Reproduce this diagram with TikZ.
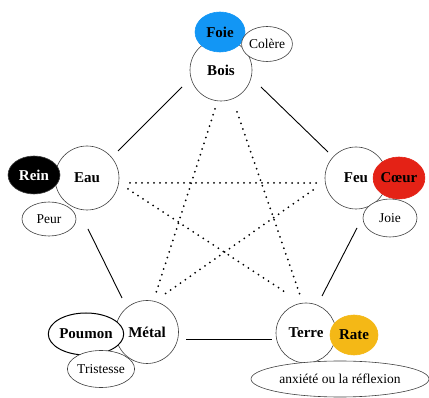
\documentclass[tikz,border=0pt]{standalone}
\usepackage{fontspec}
\setmainfont{Liberation Serif}
\usetikzlibrary{shapes.geometric}
\definecolor{foieblue}{RGB}{18,150,245}
\definecolor{coeurred}{RGB}{228,34,22}
\definecolor{rateyellow}{RGB}{244,184,22}
\tikzset{
  elem/.style={circle,draw=black!75,line width=0.6pt,fill=white,inner sep=0pt,minimum size=#1,font=\fontsize{15}{17}\selectfont\bfseries},
  organ/.style={ellipse,draw=black!75,line width=0.6pt,inner sep=0pt,font=\fontsize{15}{17}\selectfont\bfseries},
  emot/.style={ellipse,draw=black!75,line width=0.6pt,fill=white,inner sep=0pt,font=\fontsize{13.5}{15}\selectfont},
  gen/.style={line width=0.9pt,black},
  ctrl/.style={line width=2pt,black,dash pattern=on 0pt off 6pt,line cap=round},
}
\begin{document}
\begin{tikzpicture}[x=1pt,y=-1pt]
\useasboundingbox (0,0) rectangle (429,398);
% Bois group
\node[elem=62] (bois) at (221,70) {Bois};
\node[organ,fill=foieblue,draw=foieblue,minimum width=50,minimum height=40] (foie) at (220,32) {Foie};
\node[emot,minimum width=41,minimum height=35] (colere) at (267,44) {Colère};
% Eau group
\node[elem=64] (eau) at (87,178) {Eau};
\node[organ,fill=black,text=white,minimum width=52,minimum height=38] (rein) at (34,175) {Rein};
\node[emot,minimum width=54,minimum height=34] (peur) at (49,219) {Peur};
% Feu group
\node[elem=62] (feu) at (356,178) {Feu};
\node[organ,fill=coeurred,draw=coeurred,minimum width=48,minimum height=42] (coeur) at (399,178) {Cœur};
\node[emot,minimum width=54,minimum height=38] (joie) at (390,218) {Joie};
% Metal group
\node[elem=63] (metal) at (147,332) {Métal};
\node[organ,fill=white,line width=1pt,draw=black,minimum width=72,minimum height=42] (poumon) at (86,334) {Poumon};
\node[emot,minimum width=66,minimum height=37] (tristesse) at (101,369) {Tristesse};
% Terre group
\node[elem=60] (terre) at (306,333) {Terre};
\node[organ,fill=rateyellow,draw=rateyellow,minimum width=48,minimum height=40] (rate) at (354,335) {Rate};
\node[emot,minimum width=178,minimum height=36] (anx) at (340,379) {anxiété ou la réflexion};
% connector end points
\coordinate (be1) at (182,87);  \coordinate (be2) at (118,151);
\coordinate (bf1) at (261,87);  \coordinate (bf2) at (328,152);
\coordinate (em1) at (88,229);  \coordinate (em2) at (122,298);
\coordinate (ft1) at (357,228); \coordinate (ft2) at (322,296);
\coordinate (mt1) at (186,339); \coordinate (mt2) at (272,339);
\coordinate (bm1) at (215,109); \coordinate (bm2) at (156,293);
\coordinate (bt1) at (237,112); \coordinate (bt2) at (300,295);
\coordinate (ef1) at (130,183); \coordinate (ef2) at (318,183);
\coordinate (et1) at (128,189); \coordinate (et2) at (285,292);
\coordinate (fm1) at (313,190); \coordinate (fm2) at (165,294);
% generating cycle
\draw[gen] (be1) -- (be2);
\draw[gen] (bf1) -- (bf2);
\draw[gen] (em1) -- (em2);
\draw[gen] (ft1) -- (ft2);
\draw[gen] (mt1) -- (mt2);
% controlling cycle
\draw[ctrl] (bm1) -- (bm2);
\draw[ctrl] (bt1) -- (bt2);
\draw[ctrl] (ef1) -- (ef2);
\draw[ctrl] (et1) -- (et2);
\draw[ctrl] (fm1) -- (fm2);
\end{tikzpicture}
\end{document}
